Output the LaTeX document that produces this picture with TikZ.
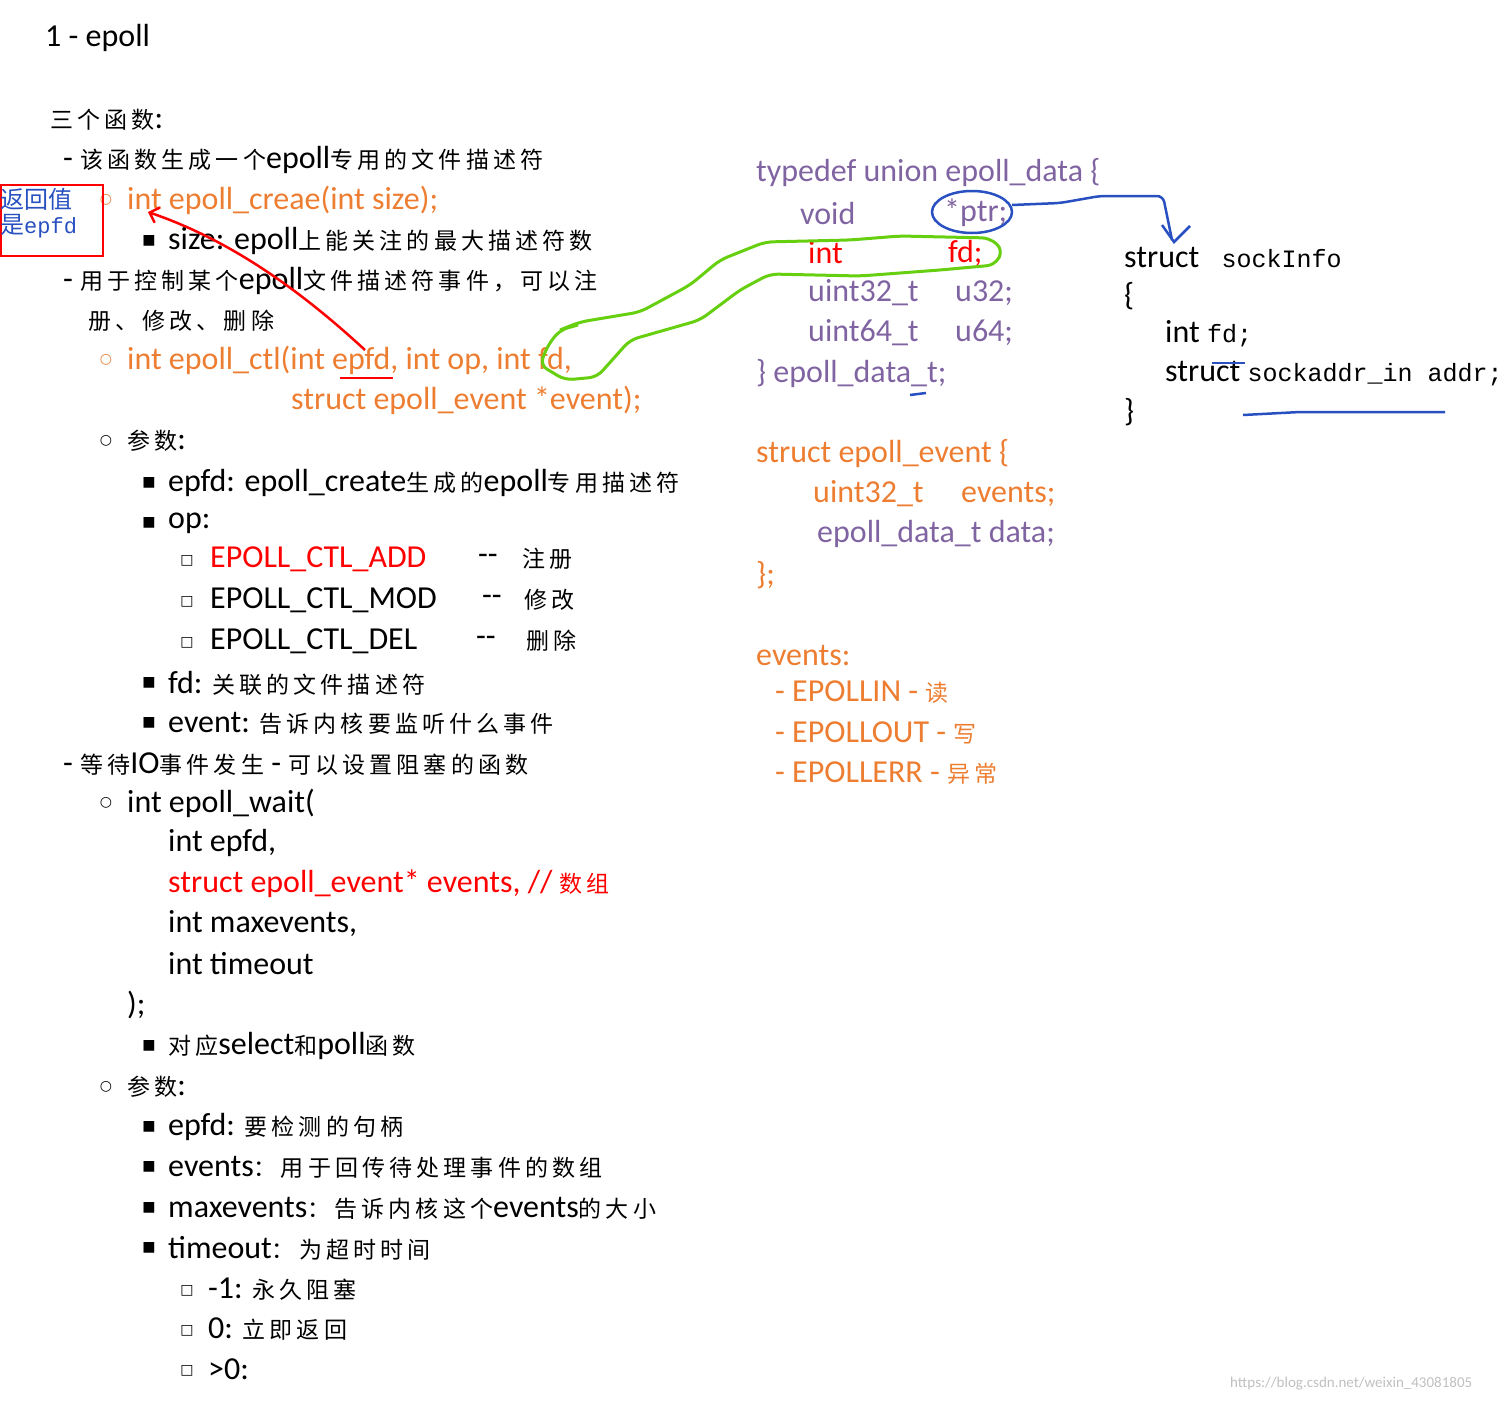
\documentclass[tikz,border=0pt]{standalone}
\usepackage{fontspec}
\setmainfont{Carlito}
\newfontfamily\cjk[LetterSpace=18]{Noto Sans CJK SC}
\newfontfamily\cjkb{Noto Sans CJK SC}
\newfontfamily\serifc{Liberation Mono}
\newfontfamily\djsans{DejaVu Sans}
\newcommand\zh[1]{{\cjk\fontsize{23}{26}\selectfont #1}}
\usetikzlibrary{arrows.meta}
\definecolor{org}{HTML}{ED7D31}
\definecolor{pur}{HTML}{8064A2}
\definecolor{grn}{HTML}{66D010}
\definecolor{blu}{HTML}{2850C0}
\begin{document}
\begin{tikzpicture}[x=1pt,y=-1pt,
 t/.style={anchor=west,inner sep=0pt,font=\fontsize{32}{34}\selectfont},
 bl/.style={anchor=center,inner sep=0pt,font=\djsans\fontsize{14}{16}\selectfont}]
\useasboundingbox (0,0) rectangle (1510,1402);
% left column
\node[t] (h1) at (45,38) {1 - epoll};
\node[t] (l1) at (50,120) {\zh{三个函数}:};
\node[t] (l2) at (63,160) {- \zh{该函数生成一个}epoll\zh{专用的文件描述符}};
\node[bl,text=org] (b1) at (106,200) {○};
\node[t,text=org] (l3) at (127,200) {int epoll\_creae(int size);};
\node[bl] (b2) at (149,241) {■};
\node[t] (l4) at (168,241) {size: epoll\zh{上能关注的最大描述符数}};
\node[t] (l5) at (63,281) {- \zh{用于控制某个}epoll\zh{文件描述符事件，可以注}};
\node[t] (l6) at (88,321) {\zh{册、修改、删除}};
\node[bl,text=org] (b3) at (106,360) {○};
\node[t,text=org] (l7) at (127,360) {int epoll\_ctl(int epfd, int op, int fd,};
\node[t,text=org] (l8) at (291,400) {struct epoll\_event *event);};
\node[bl] (b4) at (106,441) {○};
\node[t] (l9) at (127,441) {\zh{参数}:};
\node[bl] (b5) at (149,483) {■};
\node[t] (l10) at (168,483) {epfd: epoll\_create\zh{生成的}epoll\zh{专用描述符}};
\node[bl] (b6) at (149,523) {■};
\node[t] (l11) at (168,523) {op:};
\node[bl] (c1) at (187,561) {□};
\node[t,text=red] (l12) at (210,559) {EPOLL\_CTL\_ADD};
\node[t] (d1) at (478,559) {-{}-};
\node[t] (z1) at (522,559) {\zh{注册}};
\node[bl] (c2) at (187,602) {□};
\node[t] (l13) at (210,600) {EPOLL\_CTL\_MOD};
\node[t] (d2) at (482,600) {-{}-};
\node[t] (z2) at (524,600) {\zh{修改}};
\node[bl] (c3) at (187,643) {□};
\node[t] (l14) at (210,641) {EPOLL\_CTL\_DEL};
\node[t] (d3) at (476,641) {-{}-};
\node[t] (z3) at (526,641) {\zh{删除}};
\node[bl] (b7) at (149,683) {■};
\node[t] (l15) at (168,683) {fd: \zh{关联的文件描述符}};
\node[bl] (b8) at (149,723) {■};
\node[t] (l16) at (168,723) {event: \zh{告诉内核要监听什么事件}};
\node[t] (l17) at (63,764) {- \zh{等待}IO\zh{事件发生} - \zh{可以设置阻塞的函数}};
\node[bl] (b9) at (106,803) {○};
\node[t] (l18) at (127,803) {int epoll\_wait(};
\node[t] (l19) at (168,843) {int epfd,};
\node[t,text=red] (l20) at (168,884) {struct epoll\_event* events, // \zh{数组}};
\node[t] (l21) at (168,924) {int maxevents,};
\node[t] (l22) at (168,964) {int timeout};
\node[t] (l23) at (127,1005) {);};
\node[bl] (b10) at (149,1046) {■};
\node[t] (l24) at (168,1046) {\zh{对应}select\zh{和}poll\zh{函数}};
\node[bl] (b11) at (106,1087) {○};
\node[t] (l25) at (127,1087) {\zh{参数}:};
\node[bl] (b12) at (149,1127) {■};
\node[t] (l26) at (168,1127) {epfd: \zh{要检测的句柄}};
\node[bl] (b13) at (149,1167) {■};
\node[t] (l27) at (168,1167) {events\zh{：用于回传待处理事件的数组}};
\node[bl] (b14) at (149,1208) {■};
\node[t] (l28) at (168,1208) {maxevents\zh{：告诉内核这个}events\zh{的大小}};
\node[bl] (b15) at (149,1248) {■};
\node[t] (l29) at (168,1248) {timeout\zh{：为超时时间}};
\node[bl] (c4) at (187,1291) {□};
\node[t] (l30) at (208,1289) {-1: \zh{永久阻塞}};
\node[bl] (c5) at (187,1331) {□};
\node[t] (l31) at (208,1329) {0: \zh{立即返回}};
\node[bl] (c6) at (187,1371) {□};
\node[t] (l32) at (208,1369) {>0:};
% red box
\node[draw=red,line width=1.5pt,minimum width=102pt,minimum height=71pt,inner sep=0pt,anchor=north west] (box) at (0,184) {};
\node[t,text=blu,font=\cjkb\fontsize{24}{26}\selectfont] (bx1) at (0,199) {返回值};
\node[t,text=blu,font=\cjkb\fontsize{24}{26}\selectfont] (bx2) at (0,226) {是{\serifc\fontsize{22}{24}\selectfont epfd}};
% union
\node[t,text=pur] (u1) at (756,173) {typedef union epoll\_data \{};
\node[t,text=pur] (u2) at (800,213) {void};
\node[t,text=pur] (u3) at (944,213) {*ptr;};
\node[t,text=red] (u4) at (808,253) {int};
\node[t,text=red] (u5) at (948,253) {fd;};
\node[t,text=pur] (u6) at (808,293) {uint32\_t};
\node[t,text=pur] (u7) at (955,293) {u32;};
\node[t,text=pur] (u8) at (808,333) {uint64\_t};
\node[t,text=pur] (u9) at (955,333) {u64;};
\node[t,text=pur] (u10) at (756,374) {\} epoll\_data\_t;};
% struct epoll_event
\node[t,text=org] (s1) at (756,454) {struct epoll\_event \{};
\node[t,text=org] (s2) at (813,494) {uint32\_t};
\node[t,text=org] (s3) at (961,494) {events;};
\node[t,text=pur] (s4) at (817,534) {epoll\_data\_t data;};
\node[t,text=org] (s5) at (756,575) {\};};
\node[t,text=org] (e1) at (756,656) {events:};
\node[t,text=org] (e2) at (775,692) {- EPOLLIN - \zh{读}};
\node[t,text=org] (e3) at (775,733) {- EPOLLOUT - \zh{写}};
\node[t,text=org] (e4) at (775,773) {- EPOLLERR - \zh{异常}};
% sockInfo
\node[t] (k1) at (1124,258) {struct {\serifc\fontsize{25}{28}\selectfont\ sockInfo}};
\node[t] (k2) at (1124,296) {\{};
\node[t] (k3) at (1165,334) {int {\serifc\fontsize{25}{28}\selectfont fd;}};
\node[t] (k4) at (1165,374) {struct {\serifc\fontsize{25}{28}\selectfont sockaddr\_in addr;}};
\node[t] (k5) at (1124,412) {\}};
\node[t,text=black!25,font=\fontsize{15}{17}\selectfont] (wm) at (1230,1384) {https://blog.csdn.net/weixin\_43081805};
% annotations
\draw[red,line width=2.5pt] (340,378) -- (393,378);
\draw[red,line width=2.5pt,-{Straight Barb[length=8pt]}] (365,350) .. controls (300,290) and (230,240) .. (148,212);
\draw[grn,line width=3pt,rounded corners=8pt] (560,330) -- (580,322) -- (640,312) -- (690,285) -- (720,260) -- (765,242) -- (850,240) -- (900,236) -- (990,238) -- (1003,250) -- (995,265) -- (940,270) -- (860,276) -- (770,274) -- (740,290) -- (700,320) -- (630,340) -- (597,377) -- (565,380) -- (540,365) -- (548,345) -- (560,330) -- (578,325);
\draw[blu,line width=2.5pt] (972,212) ellipse (40pt and 21pt);
\draw[blu,line width=2.5pt,rounded corners=6pt] (1012,205) -- (1060,203) -- (1100,196) -- (1163,196) -- (1172,240);
\draw[blu,line width=2.5pt] (1162,225) -- (1174,242) -- (1190,226);
\draw[blu,line width=2.5pt] (1212,363) -- (1245,363);
\draw[blu,line width=2.5pt] (1243,415) -- (1300,412) -- (1445,412);
\draw[blu,line width=2.5pt] (910,395) -- (926,393);
\end{tikzpicture}
\end{document}
